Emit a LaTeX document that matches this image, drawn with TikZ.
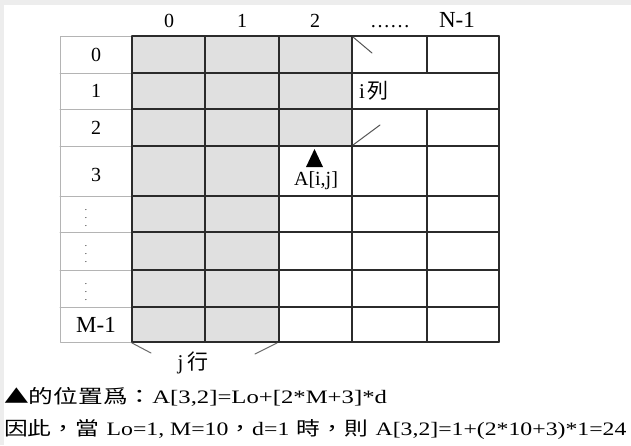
\documentclass[tikz,border=0pt]{standalone}
\usepackage{fontspec}
\setmainfont{Liberation Serif}
\newfontfamily\zh{Noto Sans CJK TC}
\definecolor{pagegray}{HTML}{EDEDED}
\definecolor{cellgray}{HTML}{E0E0E0}
\definecolor{gridcol}{HTML}{2B2B2B}
\definecolor{labelcol}{HTML}{B4B4B4}
\tikzset{
  numlabel/.style={inner sep=0pt, font=\fontsize{20}{22}\selectfont},
  bignum/.style={inner sep=0pt, font=\fontsize{23}{24}\selectfont},
  notetext/.style={inner sep=0pt, anchor=base west, font=\fontsize{19}{22}\selectfont},
  gridline/.style={gridcol, line width=1.4pt},
  thinline/.style={labelcol, line width=1pt},
  markline/.style={gridcol!80, line width=1pt}
}
\begin{document}
\begin{tikzpicture}[x=1pt, y=-1pt, line join=round, line cap=round]
  \useasboundingbox (0,0) rectangle (631,445);
  % --- background ---
  \fill[pagegray] (0,0) rectangle (631,445);
  \fill[white] (4,5) rectangle (631,445);
  % --- shaded cells ---
  \fill[cellgray] (132,36) rectangle (352,146);
  \fill[cellgray] (132,146) rectangle (279,342);
  % --- row label column ---
  \draw[thinline] (60,36) rectangle (132,342);
  \foreach \y in {73,109,146,196,232,270,307} \draw[thinline] (60,\y) -- (132,\y);
  % --- array grid ---
  \foreach \y in {36,73,109,146,196,232,270,307,342} \draw[gridline] (132,\y) -- (499,\y);
  \foreach \x in {132,205,279,352,499} \draw[gridline] (\x,36) -- (\x,342);
  \draw[gridline] (427,36) -- (427,73);
  \draw[gridline] (427,109) -- (427,342);
  % --- column numbers ---
  \foreach \c/\x in {0/169,1/242,2/315} \node[numlabel, anchor=base] (col\c) at (\x,27) {\c};
  \node[numlabel, anchor=base] (coldots) at (390,27) {……};
  \node[bignum, anchor=base] (colN) at (457,27) {N-1};
  % --- row numbers ---
  \foreach \r/\y in {0/55,1/91,2/128,3/175} \node[numlabel] (row\r) at (96,\y) {\r};
  \foreach \y in {220,256,294} \node[align=center, inner sep=0pt, font=\fontsize{9}{8}\selectfont] (vdots\y) at (86,\y-2) {.\\.\\.};
  \node[bignum] (rowM) at (96,325) {M-1};
  % --- marks for row i ---
  \draw[markline] (353,37) -- (372,53);
  \draw[markline] (353,145) -- (380,125);
  \node[inner sep=0pt, anchor=west, font=\fontsize{21}{22}\selectfont] (rowi) at (359,91) {i\hspace{2pt}{\zh 列}};
  % --- element A[i,j] ---
  \fill (306,167) -- (314.5,149) -- (323,167) -- cycle;
  \node[numlabel] (elem) at (316,181) {A[i,j]};
  % --- marks for column j ---
  \draw[markline, gridcol!70] (132,343) -- (151,353);
  \draw[markline, gridcol!70] (277,343) -- (255,354);
  \node[inner sep=0pt, font=\fontsize{21}{22}\selectfont] (colj) at (193,363) {j\hspace{4pt}{\zh 行}};
  % --- formulas ---
  \node[notetext] (note1) at (4,403) {\scalebox{1.3}[1]{{\zh ▲的位置爲：}A[3,2]=Lo+[2*M+3]*d}};
  \node[notetext] (note2) at (4,435) {\scalebox{1.25}[1]{{\zh 因此，當}\hspace{6pt}Lo=1, M=10{\zh ，}d=1\hspace{6pt}{\zh 時，則}\hspace{6pt}A[3,2]=1+(2*10+3)*1=24}};
\end{tikzpicture}
\end{document}
